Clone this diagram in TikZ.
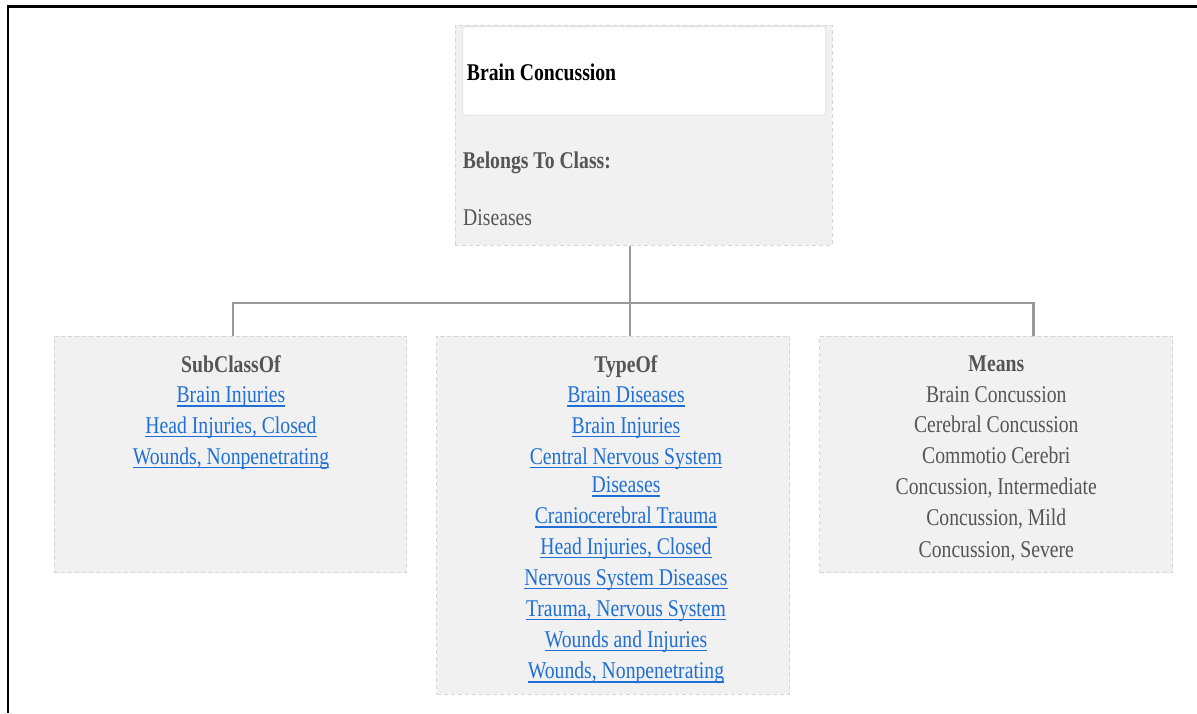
\documentclass[tikz,border=0pt]{standalone}
\usepackage{fontspec}
\setmainfont[FakeStretch=0.82]{Liberation Serif}
\definecolor{panel}{HTML}{F1F1F1}
\definecolor{panelline}{HTML}{D6D6D6}
\definecolor{titleline}{HTML}{D8DEE8}
\definecolor{txtgray}{HTML}{555555}
\definecolor{linkblue}{HTML}{1F6FD6}
\definecolor{wire}{HTML}{999999}
% underlined link text
\newcommand\lnk[1]{\setbox0=\hbox{#1}\dimen0=\wd0\rlap{\box0}\rule[-4pt]{\dimen0}{1.5pt}}
\tikzset{
  panelbox/.style={draw=panelline, fill=panel, line width=1pt, dash pattern=on 4pt off 3pt, inner sep=0pt},
  titlebox/.style={draw=titleline, fill=white, line width=0.8pt, rounded corners=1.5pt, inner sep=0pt},
  txt/.style={inner sep=0pt, yshift=-2pt, font=\fontsize{24}{29}\selectfont},
  head/.style={txt, text=txtgray, font=\fontsize{24}{29}\selectfont\bfseries},
  plain/.style={txt, text=txtgray},
  link/.style={txt, text=linkblue},
  conn/.style={draw=wire, line width=2.4pt}
}
\begin{document}
\begin{tikzpicture}[x=1pt,y=-1pt]
\useasboundingbox (0,0) rectangle (1197,713);
% frame
\draw[line width=2.2pt] (7.8,713) -- (7.8,6.5) -- (1197,6.5);

% top concept panel
\node[panelbox, minimum width=377pt, minimum height=220pt] (top) at (643.5,135) {};
\node[titlebox, minimum width=363pt, minimum height=88.3pt] (title) at (644.2,70.9) {};
\node[txt, anchor=base west, font=\fontsize{24}{29}\selectfont\bfseries] (name) at (466.7,78.3) {Brain Concussion};
\node[head, anchor=base west] (cls) at (462.7,166.7) {Belongs To Class:};
\node[plain, anchor=base west] (clsval) at (463,223.3) {Diseases};

% relation panels
\node[panelbox, minimum width=352.7pt, minimum height=236.7pt] (sub) at (230.4,454.4) {};
\node[panelbox, minimum width=353.3pt, minimum height=358pt] (type) at (613.3,515) {};
\node[panelbox, minimum width=352.7pt, minimum height=236.7pt] (means) at (996.3,454.4) {};

% connectors
\coordinate (jl) at (232.7,302.7);
\coordinate (jn) at (630,302.7);
\coordinate (jr) at (1033.3,302.7);
\draw[conn] (jn |- top.south) -- (jn |- type.north);
\draw[conn] (jl |- sub.north) -- (jl) -- (jr) -- (jr |- means.north);

% SubClassOf
\node[head, anchor=base] (subh) at (231,370) {SubClassOf};
\foreach \y/\t [count=\i] in {400.5/{Brain Injuries}, 431/{Head Injuries, Closed}, 462/{Wounds, Nonpenetrating}}
  \node[link, anchor=base] (sub\i) at (231,\y) {\lnk{\t}};

% TypeOf
\node[head, anchor=base] (typeh) at (626,370) {TypeOf};
\foreach \y/\t [count=\i] in {400.5/{Brain Diseases}, 431/{Brain Injuries}, 462/{Central Nervous System}, 490.5/{Diseases}, 521.5/{Craniocerebral Trauma}, 552/{Head Injuries, Closed}, 583/{Nervous System Diseases}, 614/{Trauma, Nervous System}, 645/{Wounds and Injuries}, 676.5/{Wounds, Nonpenetrating}}
  \node[link, anchor=base] (type\i) at (626,\y) {\lnk{\t}};

% Means
\node[head, anchor=base] (meansh) at (996.3,369.5) {Means};
\foreach \y/\t [count=\i] in {400/{Brain Concussion}, 430.5/{Cerebral Concussion}, 461.7/{Commotio Cerebri}, 492.7/{Concussion, Intermediate}, 523.5/{Concussion, Mild}, 555/{Concussion, Severe}}
  \node[plain, anchor=base] (means\i) at (996.3,\y) {\t};
\end{tikzpicture}
\end{document}
